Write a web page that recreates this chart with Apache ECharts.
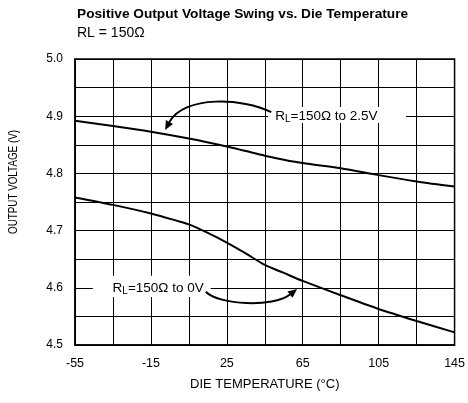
<!DOCTYPE html>
<html>
<head>
<meta charset="utf-8">
<script src="https://cdn.jsdelivr.net/npm/echarts@6/dist/echarts.min.js"></script>
<style>
  html, body { margin: 0; padding: 0; background: #fff; }
  #chart { width: 468px; height: 403px; }
</style>
</head>
<body>
<div id="chart"></div>
<script>
// Die temperature (°C) and output voltage (V) for each load condition
const tempsTo25 = [-55, -35, -15, 5, 25, 35, 45, 55, 65, 85, 105, 125, 145];
const voutTo25  = [4.892, 4.883, 4.873, 4.861, 4.847, 4.839, 4.831, 4.824, 4.818, 4.809, 4.797, 4.786, 4.777];

const tempsTo0 = [-55, -35, -15, 0, 5, 15, 25, 35, 45, 55, 65, 85, 105, 125, 145];
const voutTo0  = [4.758, 4.745, 4.730, 4.716, 4.711, 4.696, 4.679, 4.660, 4.640, 4.626, 4.612, 4.587, 4.563, 4.542, 4.522];

const xTicks = [-55, -15, 25, 65, 105, 145];
const yTicks = [4.5, 4.6, 4.7, 4.8, 4.9, 5.0];

// The temperature axis runs from -55 °C; it is drawn as an offset axis
// starting at 0 so that grid lines fall every 20 °C from -55.
const T_MIN = -55, T_MAX = 145, T_STEP = 20;
const toAxis = t => t - T_MIN;
const fromAxis = a => a + T_MIN;

const FONT = '"Liberation Sans", Arial, Helvetica, sans-serif';

// Callout definitions in data space (°C, V)
const callouts = [
  {
    box: [[46.8, 4.916], [119.4, 4.888]],
    textAt: [50.5, 4.902],
    text: '{a|R}{s|L}{a|=150Ω to 2.5V}',
    curve: [[48.4, 4.907], [33.8, 4.932], [2.4, 4.937], [-7.5, 4.876]]
  },
  {
    box: [[-45.6, 4.621], [16.5, 4.584]],
    textAt: [-35.2, 4.601],
    text: '{a|R}{s|L}{a|=150Ω to 0V}',
    curve: [[13.9, 4.593], [20.7, 4.570], [49.4, 4.565], [62.0, 4.598]]
  }
];

function zip(xs, ys) { return xs.map((x, i) => [toAxis(x), ys[i]]); }

function renderCallout(params, api) {
  const c = callouts[params.dataIndex];
  const at = pt => api.coord([toAxis(pt[0]), pt[1]]);
  const b0 = at(c.box[0]);
  const b1 = at(c.box[1]);
  const t = at(c.textAt);
  const p = c.curve.map(at);
  // arrowhead along the final tangent
  const dx = p[3][0] - p[2][0], dy = p[3][1] - p[2][1];
  const len = Math.sqrt(dx * dx + dy * dy);
  const ux = dx / len, uy = dy / len;
  const L = 9, W = 4;
  const bx = p[3][0] - ux * L, by = p[3][1] - uy * L;
  return {
    type: 'group',
    children: [
      {
        type: 'rect',
        shape: { x: Math.min(b0[0], b1[0]), y: Math.min(b0[1], b1[1]),
                 width: Math.abs(b1[0] - b0[0]), height: Math.abs(b1[1] - b0[1]) },
        style: { fill: '#fff' }
      },
      {
        type: 'text',
        x: t[0], y: t[1] + 1,
        style: {
          text: c.text,
          align: 'left', verticalAlign: 'middle',
          rich: {
            a: { fontSize: 13.5, fontFamily: FONT, fill: '#000', lineHeight: 16 },
            s: { fontSize: 10, fontFamily: FONT, fill: '#000', lineHeight: 10, padding: [7, 0, 0, 0] }
          }
        }
      },
      {
        type: 'bezierCurve',
        shape: { x1: p[0][0], y1: p[0][1], cpx1: p[1][0], cpy1: p[1][1],
                 cpx2: p[2][0], cpy2: p[2][1], x2: bx, y2: by },
        style: { stroke: '#000', lineWidth: 2, fill: null }
      },
      {
        type: 'polygon',
        shape: { points: [[p[3][0], p[3][1]],
                          [bx - uy * W, by + ux * W],
                          [bx + uy * W, by - ux * W]] },
        style: { fill: '#000' }
      }
    ]
  };
}

const chart = echarts.init(document.getElementById('chart'), null, { renderer: 'canvas' });

chart.setOption({
  animation: false,
  backgroundColor: '#fff',
  grid: {
    left: 75, right: 10, top: 59, bottom: 58,
    show: true, borderColor: '#000', borderWidth: 1.5, backgroundColor: 'transparent'
  },
  xAxis: {
    type: 'value', min: toAxis(T_MIN), max: toAxis(T_MAX), interval: T_STEP,
    name: 'DIE TEMPERATURE (°C)', nameLocation: 'middle', nameGap: 33,
    nameTextStyle: { fontSize: 13, color: '#000', fontFamily: FONT },
    axisLine: { show: true, lineStyle: { color: '#000', width: 1.5 } },
    axisTick: { show: false },
    axisLabel: {
      margin: 12, fontSize: 12.5, color: '#000', fontFamily: FONT,
      formatter: v => {
        const t = Math.round(fromAxis(v));
        return xTicks.indexOf(t) >= 0 ? String(t) : '';
      }
    },
    splitLine: { show: true, lineStyle: { color: '#000', width: 1 } }
  },
  yAxis: {
    type: 'value', min: 4.5, max: 5.0, interval: 0.05,
    axisLine: { show: true, lineStyle: { color: '#000', width: 1.5 } },
    axisTick: { show: false },
    axisLabel: {
      margin: 12, fontSize: 12, color: '#000', fontFamily: FONT,
      formatter: v => {
        const r = Math.round(v * 100) / 100;
        return yTicks.some(t => Math.abs(t - r) < 1e-6) ? r.toFixed(1) : '';
      }
    },
    splitLine: { show: true, lineStyle: { color: '#000', width: 1 } }
  },
  graphic: [
    {
      type: 'text', x: 77, y: 14,
      style: {
        text: 'Positive Output Voltage Swing vs. Die Temperature',
        fontSize: 13.7, fontWeight: 'bold', fontFamily: FONT, fill: '#000',
        align: 'left', verticalAlign: 'middle'
      }
    },
    {
      type: 'text', x: 77, y: 33,
      style: {
        text: 'RL = 150Ω', fontSize: 14, fontFamily: FONT, fill: '#000',
        align: 'left', verticalAlign: 'middle'
      }
    },
    {
      type: 'text',
      x: 14, y: 182, rotation: Math.PI / 2, scaleX: 0.82,
      style: {
        text: 'OUTPUT VOLTAGE (V)', fontSize: 12, fontFamily: FONT, fill: '#000',
        align: 'center', verticalAlign: 'middle'
      }
    }
  ],
  series: [
    {
      name: 'RL=150Ω to 2.5V', type: 'line', data: zip(tempsTo25, voutTo25),
      smooth: 0.3, symbol: 'none', z: 3,
      lineStyle: { color: '#000', width: 2 }
    },
    {
      name: 'RL=150Ω to 0V', type: 'line', data: zip(tempsTo0, voutTo0),
      smooth: 0.25, symbol: 'none', z: 3,
      lineStyle: { color: '#000', width: 2 }
    },
    {
      name: 'callouts', type: 'custom', coordinateSystem: 'cartesian2d',
      data: callouts.map(c => [toAxis(c.textAt[0]), c.textAt[1]]),
      renderItem: renderCallout, clip: false, z: 2, silent: true
    }
  ]
});
</script>
</body>
</html>
